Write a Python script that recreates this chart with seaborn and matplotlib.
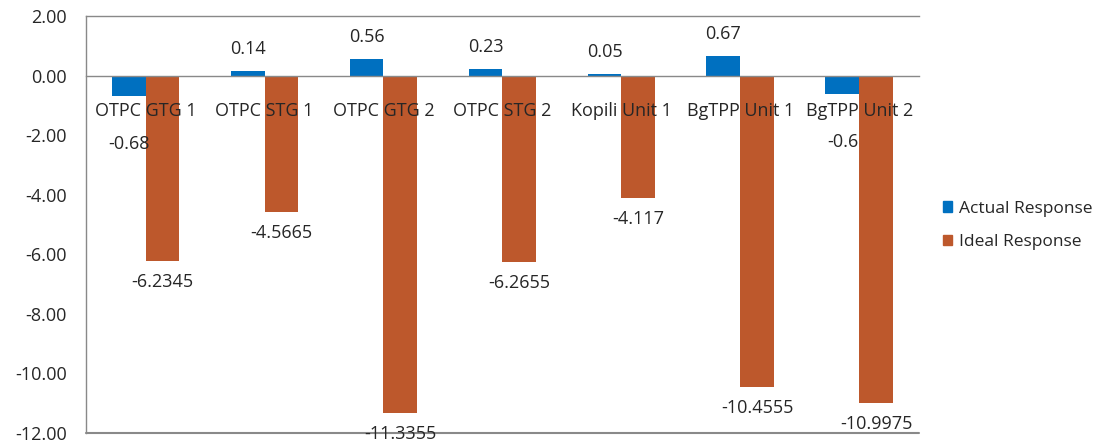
import pandas as pd
import matplotlib.pyplot as plt
import seaborn as sns
from matplotlib.patches import Patch

# chart data
units = ["OTPC GTG 1", "OTPC STG 1", "OTPC GTG 2", "OTPC STG 2",
         "Kopili Unit 1", "BgTPP Unit 1", "BgTPP Unit 2"]
actual = [-0.68, 0.14, 0.56, 0.23, 0.05, 0.67, -0.6]
ideal = [-6.2345, -4.5665, -11.3355, -6.2655, -4.117, -10.4555, -10.9975]
series_names = ["Actual Response", "Ideal Response"]
yticks = [2, 0, -2, -4, -6, -8, -10, -12]

colors = ["#0070c0", "#bd582c"]
gray = "#898989"
fs = 13

df = pd.DataFrame({
    "unit": units * 2,
    "value": actual + ideal,
    "series": [series_names[0]] * len(units) + [series_names[1]] * len(units),
})

sns.set_style("white")
plt.rcParams["font.family"] = ["Open Sans", "DejaVu Sans"]
plt.rcParams["font.size"] = fs

fig = plt.figure(figsize=(11.06, 4.46), dpi=100)
ax = fig.add_axes([0.0778, 0.029, 0.753, 0.935])

sns.barplot(data=df, x="unit", y="value", hue="series", palette=colors,
            width=0.57, saturation=1, linewidth=0, legend=False, ax=ax)

ax.set_ylim(-12, 2)
ax.set_xlim(-0.5, len(units) - 0.5)
ax.set_yticks(yticks)
ax.set_yticklabels([f"{t:.2f}" for t in yticks])
ax.set_xlabel("")
ax.set_ylabel("")

# category separators on the zero line
ax.set_xticks([i - 0.5 for i in range(len(units) + 1)])
ax.set_xticklabels([])
ax.spines["bottom"].set_position(("data", 0))
ax.spines["right"].set_visible(False)
for side in ["left", "bottom", "top"]:
    ax.spines[side].set_color(gray)
    ax.spines[side].set_linewidth(1)
ax.axhline(-12, color=gray, lw=1.5, clip_on=False, zorder=3)
ax.tick_params(axis="both", direction="out", length=5, color=gray, width=1)
ax.tick_params(axis="y", pad=9, labelsize=fs)
ax.tick_params(axis="x", top=False)

# value labels
for ci, cont in enumerate(ax.containers):
    for bar, v in zip(cont, cont.datavalues):
        xc = bar.get_x() + bar.get_width() / 2
        if v >= 0:
            off = 22
        elif ci == 0:
            off = -48
        else:
            off = -21
        ax.annotate(f"{v:g}", xy=(xc, v), xytext=(0, off),
                    textcoords="offset pixels",
                    ha="center", va="center", fontsize=fs, zorder=5)

# category labels drawn over the bars
for i, name in enumerate(units):
    ax.annotate(name, xy=(i, 0), xytext=(0, -35), textcoords="offset pixels",
                ha="center", va="center", fontsize=fs, zorder=5)

handles = [Patch(color=c, label=n) for c, n in zip(colors, series_names)]
fig.legend(handles=handles, loc="center left", bbox_to_anchor=(0.8445, 0.495),
           frameon=False, borderpad=0, handlelength=0.55, handleheight=0.55,
           handletextpad=0.4, labelspacing=1.0, fontsize=12.5)

fig.savefig("out.png", dpi=100)
